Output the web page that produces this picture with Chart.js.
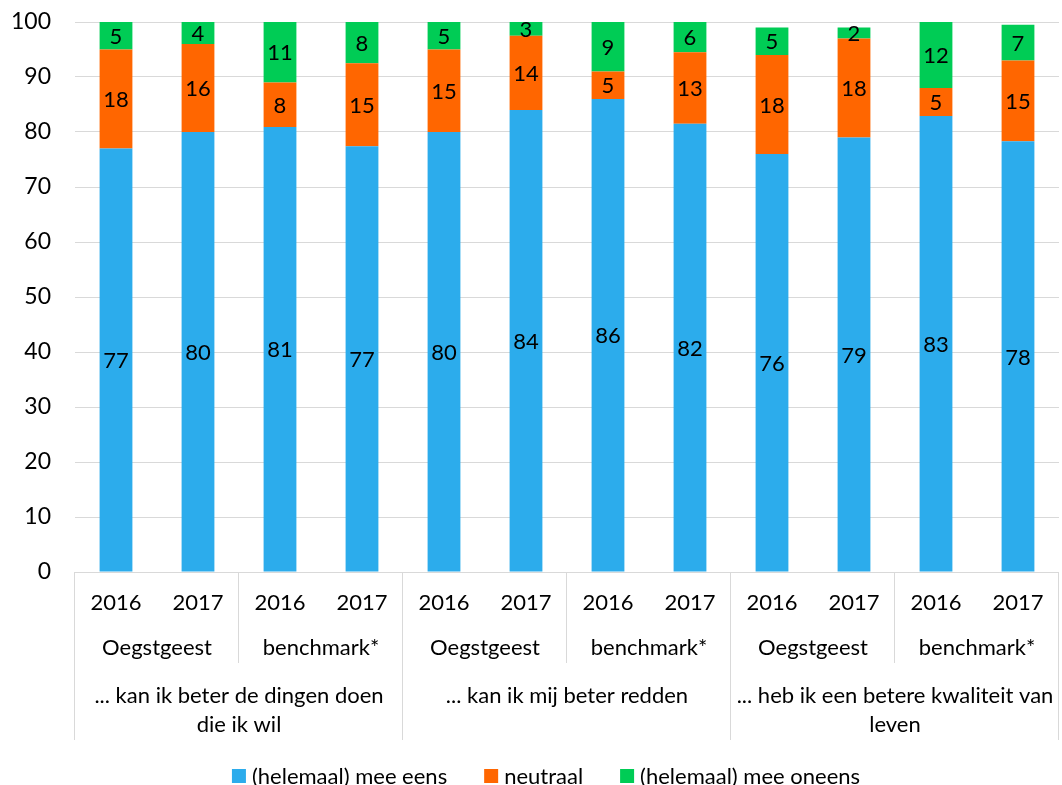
<!DOCTYPE html>
<html>
<head>
<meta charset="utf-8">
<title>Stacked bar</title>
<script src="https://cdn.jsdelivr.net/npm/chart.js@4.4.0/dist/chart.umd.min.js"></script>
<style>
  html, body { margin: 0; padding: 0; background: #fff; }
  #wrap { width: 1062px; height: 785px; }
</style>
</head>
<body>
<div id="wrap"><canvas id="myChart"></canvas></div>
<script>
// data
const years = ['2016', '2017', '2016', '2017', '2016', '2017', '2016', '2017', '2016', '2017', '2016', '2017'];
const groups = ['Oegstgeest', 'benchmark*', 'Oegstgeest', 'benchmark*', 'Oegstgeest', 'benchmark*'];
const questions = [
  ['... kan ik beter de dingen doen', 'die ik wil'],
  ['... kan ik mij beter redden'],
  ['... heb ik een betere kwaliteit van', 'leven']
];
const meeEens = [77, 80, 80.9, 77.4, 80, 84, 86, 81.5, 76, 79, 82.9, 78.3];
const neutraal = [18, 16, 8.1, 15.1, 15, 13.5, 5, 13, 18, 18, 5.1, 14.7];
const meeOneens = [5, 4, 11, 7.5, 5, 2.5, 9, 5.5, 5, 2, 12, 6.5];
const yTicks = [0, 10, 20, 30, 40, 50, 60, 70, 80, 90, 100];

const FONT = '22px Lato';
Chart.defaults.font.family = 'Lato';
Chart.defaults.font.size = 22;
Chart.defaults.color = '#000';

// numbers in the middle of each segment
const segmentLabels = {
  id: 'segmentLabels',
  afterDatasetsDraw(chart) {
    const ctx = chart.ctx;
    ctx.save();
    ctx.font = FONT;
    ctx.fillStyle = '#000';
    ctx.textAlign = 'center';
    ctx.textBaseline = 'middle';
    chart.data.datasets.forEach((ds, d) => {
      chart.getDatasetMeta(d).data.forEach((bar, i) => {
        ctx.fillText(Math.round(ds.data[i]), bar.x, (bar.y + bar.base) / 2 + 1);
      });
    });
    ctx.restore();
  }
};

// three level category axis + legend
const axisLabels = {
  id: 'axisLabels',
  afterDraw(chart) {
    const ctx = chart.ctx;
    const x = chart.scales.x;
    const top = chart.chartArea.bottom;
    const w = x.width / years.length;
    ctx.save();
    ctx.strokeStyle = '#d9d9d9';
    ctx.lineWidth = 1;
    ctx.beginPath();
    for (let k = 0; k <= years.length; k += 2) {
      const px = Math.round(x.left + k * w) - 0.5;
      ctx.moveTo(px, top);
      ctx.lineTo(px, top + (k % 4 == 0 ? 168 : 91));
    }
    ctx.stroke();
    ctx.font = FONT;
    ctx.fillStyle = '#000';
    ctx.textAlign = 'center';
    ctx.textBaseline = 'middle';
    years.forEach((y, i) => {
      ctx.fillText(y, x.getPixelForValue(i), top + 31);
    });
    groups.forEach((g, i) => {
      ctx.fillText(g, x.left + (i * 2 + 1) * w, top + 76);
    });
    questions.forEach((q, i) => {
      q.forEach((line, j) => {
        ctx.fillText(line, x.left + (i * 4 + 2) * w, top + 124 + j * 29);
      });
    });

    // legend
    const ds = chart.data.datasets;
    const box = 14, gap = 6, spacing = 37;
    let total = 0;
    ds.forEach((d, i) => {
      total += box + gap + ctx.measureText(d.label).width + (i < ds.length - 1 ? spacing : 0);
    });
    let lx = chart.width / 2 + 15 - total / 2;
    const ly = 776;
    ctx.textAlign = 'left';
    ds.forEach(d => {
      ctx.fillStyle = d.backgroundColor;
      ctx.fillRect(lx, ly - box / 2, box, box);
      lx += box + gap;
      ctx.fillStyle = '#000';
      ctx.fillText(d.label, lx, ly + 1);
      lx += ctx.measureText(d.label).width + spacing;
    });
    ctx.restore();
  }
};

const ctx = document.getElementById('myChart');

new Chart(ctx, {
  type: 'bar',
  data: {
    labels: years,
    datasets: [{
      label: '(helemaal) mee eens',
      data: meeEens,
      backgroundColor: '#2cacec'
    }, {
      label: 'neutraal',
      data: neutraal,
      backgroundColor: '#ff6600'
    }, {
      label: '(helemaal) mee oneens',
      data: meeOneens,
      backgroundColor: '#00cc55'
    }]
  },
  options: {
    responsive: true,
    maintainAspectRatio: false,
    animation: false,
    datasets: {
      bar: {
        barPercentage: 0.4,
        categoryPercentage: 1
      }
    },
    layout: {
      padding: { top: 22, right: 3, left: 0, bottom: 45 }
    },
    scales: {
      x: {
        stacked: true,
        grid: { display: false },
        border: { display: false },
        ticks: { display: false },
        afterFit: function (s) { s.height = 168; }
      },
      y: {
        stacked: true,
        min: 0,
        max: 100,
        afterBuildTicks: function (s) { s.ticks = yTicks.map(v => ({ value: v })); },
        afterFit: function (s) {
          s.width = 75;
          s.paddingTop = 0;
          s.paddingBottom = 0;
        },
        grid: { color: '#d9d9d9', drawTicks: false },
        border: { display: false },
        ticks: { padding: 24, font: { size: 23 } }
      }
    },
    plugins: {
      legend: { display: false },
      tooltip: { enabled: false }
    }
  },
  plugins: [segmentLabels, axisLabels]
});
</script>
</body>
</html>
